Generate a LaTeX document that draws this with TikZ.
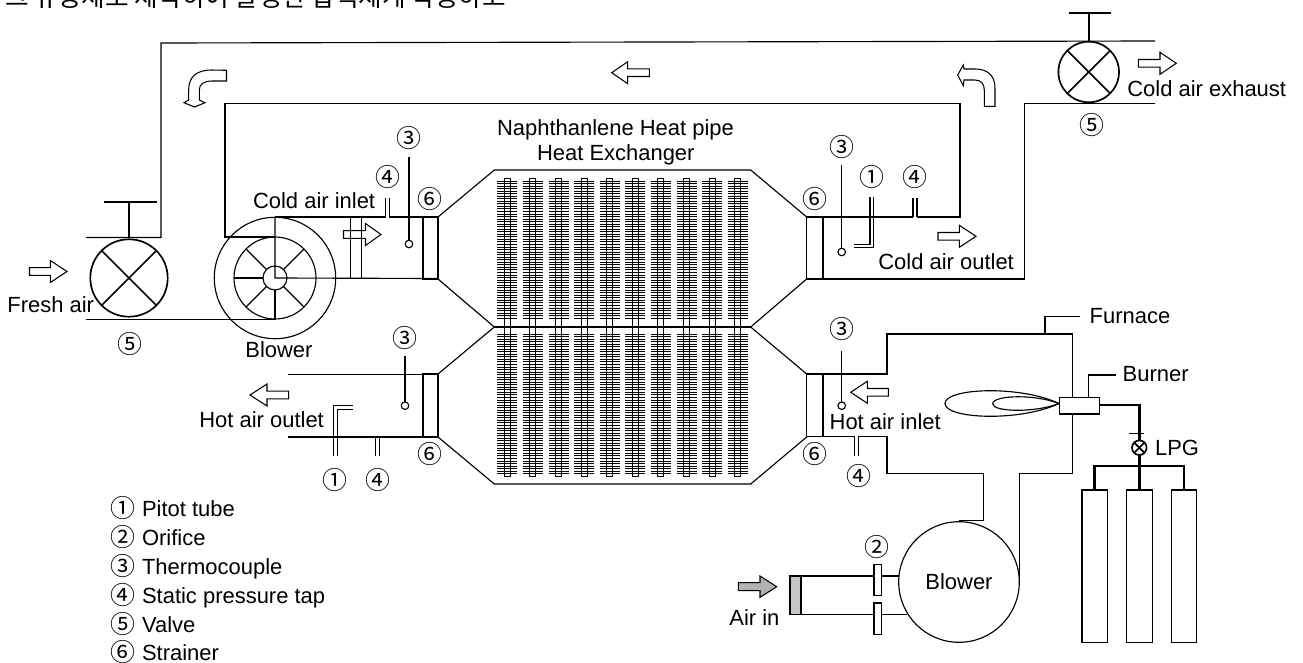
\documentclass[tikz,border=0pt]{standalone}
\usepackage{fontspec}
\usetikzlibrary{calc}
\setmainfont{Liberation Sans}
\newfontfamily\cjk{Noto Sans CJK KR}
\newcommand{\airarrow}[4]{% tail x, head base x, tip x, y
  \draw[flowline] (#1,#4-3.8) -- (#2,#4-3.8) -- (#2,#4-11) -- (#3,#4) -- (#2,#4+11) -- (#2,#4+3.8) -- (#1,#4+3.8) -- cycle;}
\tikzset{
  wall/.style={line width=0.65pt},
  flowline/.style={line width=0.6pt},
  gasline/.style={line width=1.4pt},
  valveline/.style={line width=0.95pt},
  lbl/.style={font=\fontsize{12.5}{14}\selectfont, inner sep=0pt, anchor=base west},
  circnum/.style={font=\cjk\fontsize{14.2}{15}\selectfont, inner sep=0pt},
}
\begin{document}
\begin{tikzpicture}[x=0.02cm,y=-0.02cm]
    \useasboundingbox (0,0) rectangle (1303,663);
    % cut off heading line
    \node[font=\cjk\fontsize{14.6}{16}\selectfont, inner sep=0pt, anchor=base west] (heading) at (5,6.5) {그 유동체로 제작하여 발생한 압력체계 작동하고};

    % cold air loop
    \draw[wall] (86,237.5) -- (161,237.5) -- (161,43) -- (1155,41);
    \draw[wall] (275,237) -- (225,237) -- (225,103.5) -- (960,103.5) -- (960,217) -- (917,217);
    \draw[wall] (913,217) -- (823,217);
    \draw[wall] (1155,103.5) -- (1024.3,103.5) -- (1024.3,279) -- (823,279);
    \draw[wall] (86,319.5) -- (275,319.5);
    \draw[wall] (275,217) -- (385.7,217);
    \draw[wall] (389.3,217) -- (438,217);
    \draw[wall] (350.5,217) -- (350.5,279);
    \draw[wall] (361.5,217) -- (361.5,279);

    % valves
    \draw[valveline] (129,278) circle[radius=38.7];
    \draw[valveline] (101.6,250.6) -- (156.4,305.4);
    \draw[valveline] (101.6,305.4) -- (156.4,250.6);
    \draw[valveline] (129,238) -- (129,202);
    \draw[valveline] (103.5,202) -- (157,202);
    \draw[valveline] (1088.7,72) circle[radius=30.3];
    \draw[valveline] (1067.3,50.6) -- (1110.1,93.4);
    \draw[valveline] (1067.3,93.4) -- (1110.1,50.6);
    \draw[valveline] (1088.7,41) -- (1088.7,13);
    \draw[valveline] (1068.7,13) -- (1111,13);

    % blower on the cold side
    \draw[wall] (275,278) circle[radius=60.7];
    \draw[wall] (275,278) circle[radius=41];
    \draw[wall] (275,278) circle[radius=12];
    \draw[wall] (275,217) -- (275,278) -- (439,278.5);
    \draw[wall] (275,290) -- (275,319.5);
    \draw[wall] (234,278) -- (263,278);
    \foreach \a in {45,135,225,315}
        \draw[wall] ($(275,278)+(\a:12)$) -- ($(275,278)+(\a:41)$);

    % exchanger shell
    \draw[wall] (438,217) -- (494.3,170) -- (750.7,170) -- (806.7,217);
    \draw[wall] (438,279) -- (494.3,327);
    \draw[wall] (806.7,279) -- (750.7,327);
    \draw[wall] (438,374) -- (494.3,327);
    \draw[wall] (806.7,374) -- (750.7,327);
    \draw[wall] (438,437) -- (494.3,484) -- (750.7,484) -- (806.7,437);
    \draw[line width=1.4pt] (494.3,327) -- (750.7,327);

    % heat pipes with fins
    \foreach \c in {0,...,9} {
        \pgfmathsetmacro{\px}{507.3+25.6*\c}
        \draw[line width=0.6pt] (\px-3,178.3) rectangle (\px+3,476.7);
        \foreach \j in {0,...,54}
            \draw[line width=0.55pt] (\px-10,181+2.54*\j) -- (\px+10,181+2.54*\j);
        \foreach \j in {0,...,55}
            \draw[line width=0.55pt] (\px-10,334+2.54*\j) -- (\px+10,334+2.54*\j);
    }

    % strainers
    \draw[wall] (423,217) rectangle (438,279);
    \draw[wall] (806.7,217) rectangle (823,279);
    \draw[wall] (423,374) rectangle (438,437);
    \draw[wall] (806.7,374) rectangle (823,436.7);

    % hot side ducts and furnace
    \draw[wall] (288,374.3) -- (423,374.3);
    \draw[wall] (288,437) -- (423,437);
    \draw[wall] (823,374) -- (887,374) -- (887,334) -- (1072.7,334) -- (1072.7,473.3) -- (1019.3,473.3) -- (1019.3,582);
    \draw[wall] (823,436.7) -- (854.7,436.7);
    \draw[wall] (858.3,436.7) -- (887,436.7) -- (887,473.3) -- (983.3,473.3) -- (983.3,520.7) -- (959,520.7);
    \draw[wall] (1045,334) -- (1045,316.7) -- (1080,316.7);
    \draw[wall] (1088.3,397.7) -- (1088.3,375) -- (1116,375);

    % flame and burner
    \draw[wall] (1059,403.5) .. controls (1020,385) and (945,388) .. (945,403.5) .. controls (945,419) and (1020,422) .. (1059,403.5);
    \draw[wall] (1059,403.5) .. controls (1035,394) and (992.7,395) .. (992.7,403.8) .. controls (992.7,412) and (1035,413) .. (1059,403.5);
    \draw[wall,fill=white] (1059.3,397.7) rectangle (1099.3,414);

    % gas supply
    \draw[gasline] (1099.3,405) -- (1139.3,405) -- (1139.3,440.4);
    \draw[gasline] (1139.3,455) -- (1139.3,490);
    \draw[gasline] (1094.7,490) -- (1094.7,466) -- (1184,466) -- (1184,490);
    \draw[wall] (1129,433.3) -- (1144,433.3);
    \draw[valveline] (1139.3,447.7) circle[radius=7.3];
    \draw[valveline] (1134.1,442.5) -- (1144.5,452.9);
    \draw[valveline] (1134.1,452.9) -- (1144.5,442.5);
    \draw[wall] (1082,490) rectangle (1107.7,642.3);
    \draw[wall] (1126.7,490) rectangle (1152.3,642.3);
    \draw[wall] (1171.3,490) rectangle (1196.7,642.3);

    % blower on the hot side and its inlet
    \draw[wall] (959,582) circle[radius=60.3];
    \node[lbl,anchor=center] (blowerb) at (959,582) {Blower};
    \draw[wall,fill=gray!45] (790,576) rectangle (801,614.7);
    \draw[wall] (801,576) -- (874,576);
    \draw[wall] (881.7,576) -- (898.7,576);
    \draw[wall] (801,614.7) -- (874,614.7);
    \draw[wall] (881.7,614.7) -- (906.7,614.7);
    \draw[wall] (874,564.3) rectangle (881.7,595.7);
    \draw[wall] (874,603) rectangle (881.7,634.3);

    % thermocouples
    \foreach \x/\ya/\yb in {409/157/240, 841.7/165/248, 405/355.7/401.7, 841.7/351/401.7} {
        \draw[wall] (\x,\ya) -- (\x,\yb);
        \draw[wall] (\x,\yb+4) circle[radius=3.8];
    }

    % static pressure taps
    \foreach \x/\ya/\yb in {385.7/198/217, 389.3/198/217, 913/198/217, 917/198/217, 375.7/437/456, 379.7/437/456, 854.7/436.7/456, 858.3/436.7/456}
        \draw[wall] (\x,\ya) -- (\x,\yb);

    % pitot tubes
    \draw[wall] (870,197) -- (870,244.5) -- (854,244.5);
    \draw[wall] (873.5,197) -- (873.5,247.7) -- (854,247.7);
    \draw[wall] (333.3,456) -- (333.3,405.7) -- (353.3,405.7);
    \draw[wall] (337.3,456) -- (337.3,409.3) -- (353.3,409.3);

    % air flow arrows
    \airarrow{29.5}{50.3}{67}{271.5}
    \airarrow{343.5}{365.5}{381}{234.5}
    \airarrow{938}{959.3}{976}{236.3}
    \airarrow{1138.3}{1160}{1176.3}{63.3}
    \airarrow{288.7}{267}{250}{395}
    \airarrow{888.3}{867.3}{850.7}{392.3}
    \airarrow{649.3}{627.7}{611.7}{72.7}
    \draw[flowline,fill=gray!60] (738.3,582.7) -- (760,582.7) -- (760,576) -- (776.7,586.7) -- (760,597.4) -- (760,590.7) -- (738.3,590.7) -- cycle;
    \draw[flowline] (226.5,70.3) -- (212,70) .. controls (195,70) and (188.7,78) .. (188.7,90) -- (188.7,100) -- (184,102.7) -- (194.5,107) -- (205,102.7) -- (199.3,100) -- (199.3,90) .. controls (199.3,84) and (204,81) .. (212,81) -- (226.5,81) -- cycle;
    \draw[flowline] (995,106.3) -- (995,88) .. controls (995,76) and (988,69) .. (975,69) -- (964,69) -- (963.3,65) -- (957.7,75) -- (963.3,85.7) -- (964,80) -- (975,80) .. controls (981,80) and (984.3,84) .. (984.3,90) -- (984.3,106.3) -- cycle;

    % labels
    \node[lbl] (nhp) at (496.7,135) {Naphthanlene Heat pipe};
    \node[lbl] (hex) at (536.7,160.7) {Heat Exchanger};
    \node[lbl] (fresh) at (7,312.7) {Fresh air};
    \node[lbl] (blowera) at (245,357) {Blower};
    \node[lbl] (coldin) at (252.7,208) {Cold air inlet};
    \node[lbl] (coldout) at (878,269) {Cold air outlet};
    \node[lbl] (coldex) at (1127,96) {Cold air exhaust};
    \node[lbl] (hotout) at (199,427.3) {Hot air outlet};
    \node[lbl] (hotin) at (829.3,429.3) {Hot air inlet};
    \node[lbl] (furnace) at (1089.3,323.3) {Furnace};
    \node[lbl] (burner) at (1122.3,381.7) {Burner};
    \node[lbl] (lpg) at (1154.7,455.7) {LPG};
    \node[lbl] (airin) at (729,625) {Air in};

    % numbered marks
    \foreach \x/\y/\t in {409/138/③, 387.5/177/④, 430/199/⑥, 130/344/⑤,
        841.7/147/③, 871.7/177/①, 915/177/④, 815.3/199/⑥, 1092/125/⑤,
        405/338/③, 335.3/480/①, 378.3/480/④, 430/454/⑥,
        841.7/329/③, 859/476/④, 815.3/453.7/⑥, 877.3/547.3/②}
        \node[circnum] at (\x,\y) {\t};

    % legend
    \foreach \y/\t/\s in {508/①/Pitot tube, 537/②/Orifice, 566/③/Thermocouple, 595.3/④/Static pressure tap, 624.3/⑤/Valve, 652.5/⑥/Strainer} {
        \node[circnum] at (123.3,\y) {\t};
        \node[lbl] at (141.7,\y+8) {\s};
    }
\end{tikzpicture}
\end{document}
